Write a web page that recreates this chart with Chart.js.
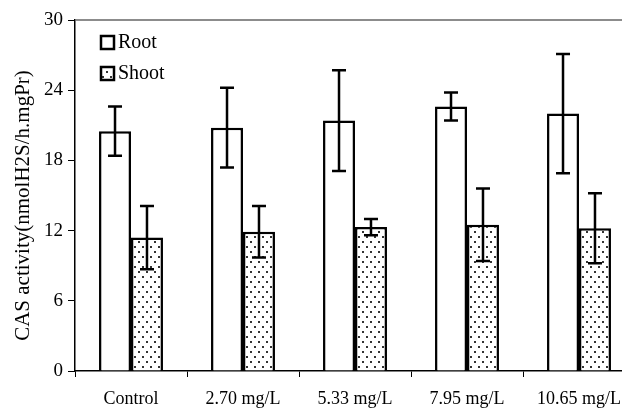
<!DOCTYPE html>
<html>
<head>
<meta charset="utf-8">
<script src="https://cdn.jsdelivr.net/npm/chart.js@4/dist/chart.umd.min.js"></script>
<style>
  html, body { margin: 0; padding: 0; background: #fff; overflow: hidden; }
  #wrap { width: 640px; height: 408px; }
</style>
</head>
<body>
<div id="wrap"><canvas id="casChart" width="640" height="408"></canvas></div>
<script>
// data
const categories = ['Control', '2.70 mg/L', '5.33 mg/L', '7.95 mg/L', '10.65 mg/L'];
const rootValues = [20.5, 20.8, 21.4, 22.6, 22.0];
const rootErrors = [2.1, 3.4, 4.3, 1.2, 5.1];
const shootValues = [11.4, 11.9, 12.3, 12.5, 12.2];
const shootErrors = [2.7, 2.2, 0.7, 3.1, 3.0];
const yTicks = [0, 6, 12, 18, 24, 30];
const yTitle = 'CAS activity(nmolH2S/h.mgPr)';

const serif = '"Liberation Serif", "Times New Roman", serif';

// dotted fill for Shoot (staggered dots)
function dotPattern() {
    const c = document.createElement('canvas');
    c.width = 8; c.height = 10;
    const g = c.getContext('2d');
    g.fillStyle = '#fff';
    g.fillRect(0, 0, 8, 10);
    g.fillStyle = '#333';
    g.fillRect(2, 1, 2, 2);
    g.fillRect(6, 6, 2, 2);
    return g.createPattern(c, 'repeat');
}
const dots = dotPattern();

// error bars + frame line + legend + axis title
const extras = {
    id: 'extras',
    afterDatasetsDraw(chart) {
        const ctx = chart.ctx;
        const y = chart.scales.y;
        const errs = [rootErrors, shootErrors];
        ctx.save();
        ctx.strokeStyle = '#000';
        ctx.lineWidth = 2.5;
        chart.data.datasets.forEach((ds, di) => {
            chart.getDatasetMeta(di).data.forEach((bar, i) => {
                const v = ds.data[i], e = errs[di][i];
                const top = y.getPixelForValue(v + e);
                const bot = y.getPixelForValue(v - e);
                ctx.beginPath();
                ctx.moveTo(bar.x, top); ctx.lineTo(bar.x, bot);
                ctx.moveTo(bar.x - 7, top); ctx.lineTo(bar.x + 7, top);
                ctx.moveTo(bar.x - 7, bot); ctx.lineTo(bar.x + 7, bot);
                ctx.stroke();
            });
        });
        // top frame line
        const a = chart.chartArea;
        ctx.strokeStyle = '#666';
        ctx.lineWidth = 1.5;
        ctx.beginPath();
        ctx.moveTo(a.left, a.top); ctx.lineTo(a.right, a.top);
        ctx.stroke();
        // legend
        ctx.font = '20px ' + serif;
        ctx.textBaseline = 'middle';
        chart.data.datasets.forEach((ds, di) => {
            const bx = a.left + 26, by = a.top + 16 + di * 31;
            ctx.fillStyle = ds.backgroundColor;
            ctx.fillRect(bx, by, 13, 13);
            ctx.strokeStyle = '#000';
            ctx.lineWidth = 2.5;
            ctx.strokeRect(bx, by, 13, 13);
            ctx.fillStyle = '#000';
            ctx.fillText(ds.label, bx + 17, by + 7);
        });
        // y axis title
        ctx.translate(23, (a.top + a.bottom) / 2 + 10);
        ctx.rotate(-Math.PI / 2);
        ctx.font = '21px ' + serif;
        ctx.textAlign = 'center';
        ctx.fillText(yTitle, 0, 0);
        ctx.restore();
    }
};

new Chart(document.getElementById('casChart'), {
    type: 'bar',
    data: {
        labels: categories,
        datasets: [
            { label: 'Root', data: rootValues, backgroundColor: '#fff', borderColor: '#000', borderWidth: 2.5 },
            { label: 'Shoot', data: shootValues, backgroundColor: dots, borderColor: '#000', borderWidth: 2.5 }
        ]
    },
    options: {
        responsive: false,
        animation: false,
        layout: { padding: { top: 20, right: 5, left: 0, bottom: 0 } },
        categoryPercentage: 0.571,
        barPercentage: 1.0,
        plugins: { legend: { display: false }, tooltip: { enabled: false } },
        scales: {
            x: {
                grid: { offset: true, drawOnChartArea: false, drawTicks: true, tickLength: 6, color: '#000' },
                border: { display: true, color: '#000', width: 1.5 },
                ticks: { color: '#000', font: { family: serif, size: 18 }, padding: 11, maxRotation: 0 },
                afterFit(s) { s.height = 37; }
            },
            y: {
                min: 0,
                max: 30,
                afterBuildTicks(s) { s.ticks = yTicks.map(v => ({ value: v })); },
                grid: { drawOnChartArea: false, drawTicks: true, tickLength: 7, color: '#000' },
                border: { display: true, color: '#000', width: 1.5 },
                ticks: { color: '#000', font: { family: serif, size: 19 }, padding: 5 },
                afterFit(s) { s.width = 75; }
            }
        }
    },
    plugins: [extras]
});
</script>
</body>
</html>
